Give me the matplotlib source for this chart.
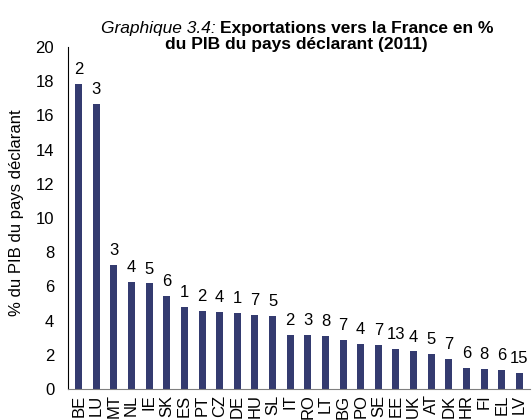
import numpy as np
import matplotlib.pyplot as plt

# %%
# Exports to France as % of GDP of reporting country (2011)
countries = ['BE', 'LU', 'MT', 'NL', 'IE', 'SK', 'ES', 'PT', 'CZ', 'DE', 'HU', 'SL', 'IT',
             'RO', 'LT', 'BG', 'PO', 'SE', 'EE', 'UK', 'AT', 'DK', 'HR', 'FI', 'EL', 'LV']
values = [17.83, 16.66, 7.27, 6.23, 6.17, 5.45, 4.81, 4.57, 4.52, 4.42, 4.30, 4.28, 3.15,
          3.15, 3.11, 2.85, 2.64, 2.58, 2.35, 2.19, 2.05, 1.76, 1.23, 1.16, 1.10, 0.92]
ranks = ['2', '3', '3', '4', '5', '6', '1', '2', '4', '1', '7', '5', '2',
         '3', '8', '7', '4', '7', '13', '4', '5', '7', '6', '8', '6', '15']

plt.rcParams['font.family'] = ['Liberation Sans', 'DejaVu Sans']

# %%
fig = plt.figure(figsize=(5.32, 4.2), dpi=100)
ax = fig.add_axes([0.128, 0.074, 0.868, 0.814])

x = np.arange(len(countries))
ax.bar(x, values, width=0.4, color='#343b70')

# rank labels on top of the bars
for xi, v, r in zip(x, values, ranks):
    ax.annotate(r, (xi, v), xytext=(0, 5), textcoords='offset points',
                ha='center', va='bottom', fontsize=12)

ax.set_ylim(0, 20)
ax.set_yticks(range(0, 21, 2))
ax.set_xlim(-0.6, len(countries) - 0.4)
ax.set_xticks(x)
ax.set_xticklabels(countries, rotation=90)
ax.tick_params(axis='both', length=0, labelsize=12)
ax.tick_params(axis='y', pad=10)
ax.tick_params(axis='x', pad=4)

ax.spines['top'].set_visible(False)
ax.spines['right'].set_visible(False)
ax.spines['left'].set_color('black')
ax.spines['bottom'].set_color('#808080')

ax.set_ylabel('% du PIB du pays déclarant', fontsize=12)
ax.yaxis.set_label_coords(-0.095, 0.515)

# title: italic prefix + bold text
fig.text(0.414, 0.933, 'Graphique 3.4: ', fontsize=12.5, style='italic', ha='right', va='center')
fig.text(0.414, 0.933, 'Exportations vers la France en %', fontsize=12.5, weight='bold',
         ha='left', va='center')
fig.text(0.557, 0.893, 'du PIB du pays déclarant (2011)', fontsize=12.5, weight='bold',
         ha='center', va='center')

plt.savefig('out.png', dpi=100)
